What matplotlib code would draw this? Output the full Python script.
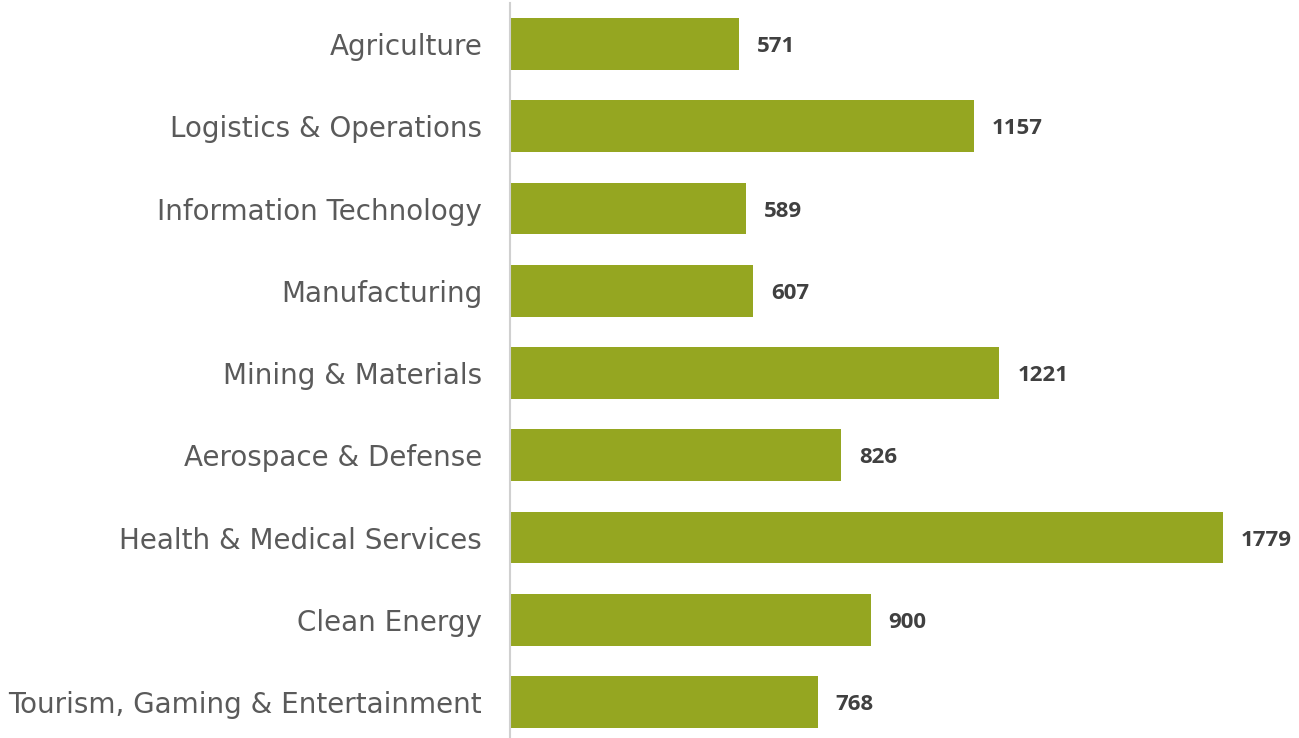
import matplotlib
matplotlib.use('Agg')
import matplotlib.pyplot as plt

categories = ['Agriculture', 'Logistics & Operations', 'Information Technology',
              'Manufacturing', 'Mining & Materials', 'Aerospace & Defense',
              'Health & Medical Services', 'Clean Energy',
              'Tourism, Gaming & Entertainment']
values = [571, 1157, 589, 607, 1221, 826, 1779, 900, 768]

bar_color = '#95a621'

fig = plt.figure(figsize=(12.99, 7.38), dpi=100)
# axes placed in pixel terms of the reference
ax = fig.add_axes([510 / 1299, 0, 789 / 1299, 735 / 738])

pos = list(range(len(categories)))
ax.barh(pos, values, height=0.63, color=bar_color)

ax.set_xlim(0, 789 / 0.4008)
ax.set_ylim(8 + 36 / 82.25, -0.5)

for p, v in zip(pos, values):
    ax.text(v + 18 / 0.4008, p, str(v), va='center_baseline', ha='left',
            fontsize=16, fontweight='bold', color='#404040', family='Open Sans')

ax.set_yticks(pos)
ax.set_yticklabels(categories, fontsize=20, color='#5a5a5a', family='DejaVu Sans')
ax.tick_params(axis='y', length=0, pad=20)
ax.set_xticks([])

for s in ['top', 'right', 'bottom']:
    ax.spines[s].set_visible(False)
ax.spines['left'].set_color('#d0d0d0')
ax.spines['left'].set_linewidth(1.5)

fig.savefig('out.png', dpi=100)
